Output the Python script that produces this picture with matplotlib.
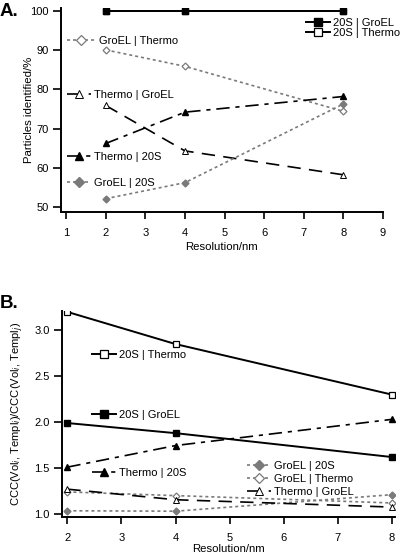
import matplotlib
matplotlib.use("Agg")
import matplotlib.pyplot as plt
from matplotlib.legend import Legend
from matplotlib.ticker import FormatStrFormatter

plt.rcParams['font.family'] = ['Liberation Sans', 'DejaVu Sans']
plt.rcParams['font.size'] = 8

# ---------------- data ----------------
res = [2, 4, 8]

# Panel A: particles identified (%)
a_20s_groel = [100, 100, 100]
a_20s_thermo = [100, 100, 100]
a_groel_thermo = [90.1, 85.9, 74.4]
a_thermo_groel = [75.9, 64.3, 58.2]
a_thermo_20s = [66.2, 74.2, 78.2]
a_groel_20s = [52.1, 56.2, 76.3]

# Panel B: CCC ratios
b_20s_thermo = [3.20, 2.85, 2.30]
b_20s_groel = [1.99, 1.88, 1.62]
b_thermo_20s = [1.51, 1.745, 2.03]
b_groel_20s = [1.035, 1.03, 1.21]
b_groel_thermo = [1.24, 1.20, 1.12]
b_thermo_groel = [1.27, 1.155, 1.075]

lbl_20s_groel = "20S | GroEL"
lbl_20s_thermo = "20S | Thermo"
lbl_groel_thermo = "GroEL | Thermo"
lbl_thermo_groel = "Thermo | GroEL"
lbl_thermo_20s = "Thermo | 20S"
lbl_groel_20s = "GroEL | 20S"

a_xticks = [1, 2, 3, 4, 5, 6, 7, 8, 9]
a_yticks = [50, 60, 70, 80, 90, 100]
b_xticks = [2, 3, 4, 5, 6, 7, 8]
b_yticks = [1.0, 1.5, 2.0, 2.5, 3.0]

# ---------------- styles ----------------
GRAY = '#7a7a7a'
styles = {
    '20s_groel': dict(color='black', lw=1.4, ls='-', marker='s', ms=4.5, mfc='black', mec='black'),
    '20s_thermo': dict(color='black', lw=1.4, ls='-', marker='s', ms=4.5, mfc='white', mec='black', mew=0.9),
    'groel_thermo': dict(color=GRAY, lw=1.2, ls=(0, (1.8, 1.8)), marker='D', ms=3.5, mfc='white', mec=GRAY, mew=0.9),
    'groel_20s': dict(color=GRAY, lw=1.2, ls=(0, (1.8, 1.8)), marker='D', ms=3.5, mfc=GRAY, mec=GRAY),
    'thermo_groel': dict(color='black', lw=1.2, ls=(0, (8, 5)), marker='^', ms=4.5, mfc='white', mec='black', mew=0.7),
    'thermo_20s': dict(color='black', lw=1.2, ls=(0, (8, 3.5, 2.5, 3.5)), marker='^', ms=4.5, mfc='black', mec='black'),
}

W, H = 400, 557
fig = plt.figure(figsize=(W / 100, H / 100), dpi=100)


def px_axes(l, t, r, b):
    return fig.add_axes([l / W, 1 - b / H, (r - l) / W, (b - t) / H])


def style_axes(ax):
    for s in ['top', 'right']:
        ax.spines[s].set_visible(False)
    for s in ['left', 'bottom']:
        ax.spines[s].set_linewidth(1.4)
    ax.tick_params(axis='y', direction='out', length=6, width=1.2, labelsize=8, pad=3)
    ax.tick_params(axis='x', direction='out', length=5, width=1.2, labelsize=8, pad=6.5)


def put_legend(ax, handles, labels, x, y, hl=2.2, spacing=0.3):
    leg = Legend(ax, handles, labels, loc='center left',
                 bbox_to_anchor=(x / W, 1 - y / H), bbox_transform=fig.transFigure,
                 frameon=False, borderpad=0, borderaxespad=0, handlelength=hl,
                 handletextpad=0.25, labelspacing=spacing, markerscale=1.4, fontsize=8)
    ax.add_artist(leg)
    return leg


# ---------------- Panel A ----------------
axA = px_axes(61, 8, 383, 212)
style_axes(axA)
hA = {}
hA['20s_thermo'], = axA.plot(res, a_20s_thermo, **styles['20s_thermo'])
hA['20s_groel'], = axA.plot(res, a_20s_groel, **styles['20s_groel'])
hA['groel_thermo'], = axA.plot(res, a_groel_thermo, **styles['groel_thermo'])
hA['thermo_groel'], = axA.plot(res, a_thermo_groel, **styles['thermo_groel'])
hA['thermo_20s'], = axA.plot(res, a_thermo_20s, **styles['thermo_20s'])
hA['groel_20s'], = axA.plot(res, a_groel_20s, **styles['groel_20s'])
axA.set_xlim(0.87, 9)
axA.set_ylim(48.7, 100.8)
axA.set_xticks(a_xticks)
axA.set_yticks(a_yticks)
axA.set_xlabel("Resolution/nm", fontsize=8.2)
axA.set_ylabel("Particles identified/%", fontsize=8.2)
axA.xaxis.set_label_coords(0.5, -(242 - 212) / 204)
axA.yaxis.set_label_coords((34 - 61) / 322, 0.5)
fig.text(0 / W, 1 - 11 / H, "A.", fontsize=13.5, fontweight='bold', va='center', ha='left')

put_legend(axA, [hA['20s_groel'], hA['20s_thermo']], [lbl_20s_groel, lbl_20s_thermo], 306, 28, spacing=0.0)
put_legend(axA, [hA['groel_thermo']], [lbl_groel_thermo], 67, 41, hl=2.6)
put_legend(axA, [hA['thermo_groel']], [lbl_thermo_groel], 67, 95)
put_legend(axA, [hA['thermo_20s']], [lbl_thermo_20s], 67, 157)
put_legend(axA, [hA['groel_20s']], [lbl_groel_20s], 67, 183)

# ---------------- Panel B ----------------
axB = px_axes(62, 311, 395, 517)
style_axes(axB)
hB = {}
hB['20s_thermo'], = axB.plot(res, b_20s_thermo, **styles['20s_thermo'])
hB['20s_groel'], = axB.plot(res, b_20s_groel, **styles['20s_groel'])
hB['thermo_20s'], = axB.plot(res, b_thermo_20s, **styles['thermo_20s'])
hB['groel_20s'], = axB.plot(res, b_groel_20s, **styles['groel_20s'])
hB['groel_thermo'], = axB.plot(res, b_groel_thermo, **styles['groel_thermo'])
hB['thermo_groel'], = axB.plot(res, b_thermo_groel, **styles['thermo_groel'])
axB.set_xlim(1.9, 8.06)
axB.set_ylim(0.967, 3.21)
axB.set_xticks(b_xticks)
axB.set_yticks(b_yticks)
axB.yaxis.set_major_formatter(FormatStrFormatter('%.1f'))
axB.set_xlabel("Resolution/nm", fontsize=8.2)
axB.set_ylabel(r"CCC(Vol$_i$, Templ$_i$)/CCC(Vol$_i$, Templ$_j$)", fontsize=8)
axB.xaxis.set_label_coords(0.5, -(544 - 517) / 206)
axB.yaxis.set_label_coords((26 - 62) / 333, 0.5)
fig.text(0 / W, 1 - 303 / H, "B.", fontsize=13.5, fontweight='bold', va='center', ha='left')

put_legend(axB, [hB['20s_thermo']], [lbl_20s_thermo], 92, 355)
put_legend(axB, [hB['20s_groel']], [lbl_20s_groel], 92, 415)
put_legend(axB, [hB['thermo_20s']], [lbl_thermo_20s], 92, 473)
put_legend(axB, [hB['groel_20s'], hB['groel_thermo'], hB['thermo_groel']],
           [lbl_groel_20s, lbl_groel_thermo, lbl_thermo_groel], 247, 479)

fig.savefig("out.png", dpi=100)
